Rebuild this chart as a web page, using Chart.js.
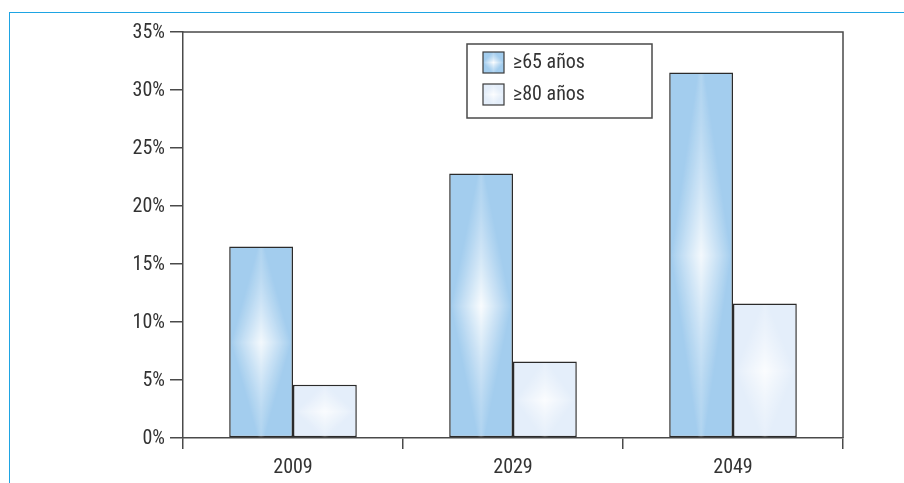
<!DOCTYPE html>
<html>
<head>
<meta charset="utf-8">
<script src="https://cdn.jsdelivr.net/npm/chart.js@4.4.1/dist/chart.umd.min.js"></script>
<style>
  html, body { margin: 0; padding: 0; background: #fff; }
  #wrap { position: relative; width: 904px; height: 483px; }
  #frame { position: absolute; left: 9px; top: 12px; right: 0; bottom: 0;
           border-top: 1.5px solid #1ea4e3; border-left: 1.5px solid #1ea4e3; }
  canvas { position: absolute; left: 0; top: 0; }
</style>
</head>
<body>
<div id="wrap">
  <div id="frame"></div>
  <canvas id="chart" width="904" height="483"></canvas>
</div>
<script>
// Share of the population by age group (percent)
const years = ['2009', '2029', '2049'];
const over65 = [16.5, 22.8, 31.5];
const over80 = [4.6, 6.6, 11.6];
const seriesLabels = ['\u226565 a\u00f1os', '\u226580 a\u00f1os'];
const yTicks = [0, 5, 10, 15, 20, 25, 30, 35];

const FONT = '"Liberation Sans Narrow", "Arial Narrow", "Roboto Condensed", sans-serif';
const TEXT = '#333333';
const LINE = '#4a4a4a';

const fills = ['#a3cdee', '#e4eefa'];
const glowStrength = [0.95, 0.9];

// Soft diamond-shaped highlight down the middle of a rectangle
function paintGlow(ctx, left, top, w, h, strength) {
  if (w <= 0 || h <= 0) return;
  ctx.save();
  ctx.beginPath();
  ctx.rect(left, top, w, h);
  ctx.clip();
  const cx = left + w / 2, cy = top + h / 2, half = h / 2;
  for (let yy = 0; yy < h; yy++) {
    const dy = Math.abs(top + yy + 0.5 - cy);
    const t = Math.max(0, 1 - dy / half);
    const hw = (w / 2) * (0.12 + 0.88 * t);
    const a = strength * (0.18 + 0.82 * Math.pow(t, 1.6));
    const g = ctx.createLinearGradient(cx - hw, 0, cx + hw, 0);
    g.addColorStop(0, 'rgba(255,255,255,0)');
    g.addColorStop(0.5, 'rgba(255,255,255,' + a.toFixed(3) + ')');
    g.addColorStop(1, 'rgba(255,255,255,0)');
    ctx.fillStyle = g;
    ctx.fillRect(left, top + yy, w, 1);
  }
  ctx.restore();
}

const barGlow = {
  id: 'barGlow',
  afterDatasetDraw(chart, args) {
    const ctx = chart.ctx;
    const ds = chart.data.datasets[args.index];
    const bw = ds.borderWidth || 0;
    args.meta.data.forEach(bar => {
      const p = bar.getProps(['x', 'y', 'base', 'width'], true);
      const top = Math.min(p.y, p.base), h = Math.abs(p.base - p.y);
      paintGlow(ctx, p.x - p.width / 2 + bw, top + bw, p.width - 2 * bw, h - bw, glowStrength[args.index]);
    });
  }
};

// Top and right edges of the plot frame
const plotFrame = {
  id: 'plotFrame',
  afterDraw(chart) {
    const { ctx, chartArea: a } = chart;
    ctx.save();
    ctx.strokeStyle = LINE;
    ctx.lineWidth = 1.5;
    ctx.beginPath();
    ctx.moveTo(a.left, a.top);
    ctx.lineTo(a.right, a.top);
    ctx.lineTo(a.right, a.bottom);
    ctx.stroke();
    ctx.restore();
  }
};

// Boxed legend inside the plot
const boxLegend = {
  id: 'boxLegend',
  afterDraw(chart, args, opts) {
    const ctx = chart.ctx;
    ctx.save();
    ctx.strokeStyle = LINE;
    ctx.lineWidth = 1.5;
    ctx.strokeRect(opts.x, opts.y, opts.w, opts.h);
    chart.data.datasets.forEach((ds, i) => {
      const sy = opts.y + opts.first + i * opts.step;
      const sx = opts.x + opts.pad;
      ctx.fillStyle = ds.backgroundColor;
      ctx.fillRect(sx, sy, opts.sw, opts.sw);
      paintGlow(ctx, sx, sy, opts.sw, opts.sw, glowStrength[i]);
      ctx.strokeStyle = '#3a3a3a';
      ctx.lineWidth = 1.2;
      ctx.strokeRect(sx, sy, opts.sw, opts.sw);
      ctx.fillStyle = TEXT;
      ctx.font = '20px ' + FONT;
      ctx.textBaseline = 'middle';
      ctx.textAlign = 'left';
      ctx.fillText(ds.label, sx + opts.sw + 9, sy + opts.sw / 2);
    });
    ctx.restore();
  }
};

new Chart(document.getElementById('chart'), {
  type: 'bar',
  data: {
    labels: years,
    datasets: [
      { label: seriesLabels[0], data: over65, backgroundColor: fills[0],
        borderColor: '#2b2b2b', borderWidth: 1.5, borderSkipped: false },
      { label: seriesLabels[1], data: over80, backgroundColor: fills[1],
        borderColor: '#2b2b2b', borderWidth: 1.5, borderSkipped: false }
    ]
  },
  options: {
    responsive: false,
    animation: false,
    devicePixelRatio: 1,
    layout: { padding: { top: 32, right: 61, left: 0, bottom: 0 } },
    datasets: { bar: { categoryPercentage: 0.58, barPercentage: 1.0 } },
    plugins: {
      legend: { display: false },
      tooltip: { enabled: false },
      boxLegend: { x: 467, y: 44, w: 185, h: 74, pad: 16, first: 8, step: 32, sw: 21 }
    },
    scales: {
      x: {
        offset: true,
        afterFit(s) { s.height = 45; },
        border: { display: true, color: LINE, width: 1.5 },
        grid: { offset: true, drawOnChartArea: false, drawTicks: true, tickLength: 11, color: LINE, lineWidth: 1.5 },
        ticks: { color: TEXT, font: { family: FONT, size: 20 }, padding: 7 }
      },
      y: {
        min: 0, max: 35,
        afterFit(s) { s.width = 183; },
        afterBuildTicks(s) { s.ticks = yTicks.map(v => ({ value: v })); },
        border: { display: true, color: LINE, width: 1.5 },
        grid: { drawOnChartArea: false, drawTicks: true, tickLength: 13, color: LINE, lineWidth: 1.5 },
        ticks: { color: TEXT, font: { family: FONT, size: 20 }, padding: 5, labelOffset: 1,
                 callback: v => v + '%' }
      }
    }
  },
  plugins: [barGlow, plotFrame, boxLegend]
});
</script>
</body>
</html>
